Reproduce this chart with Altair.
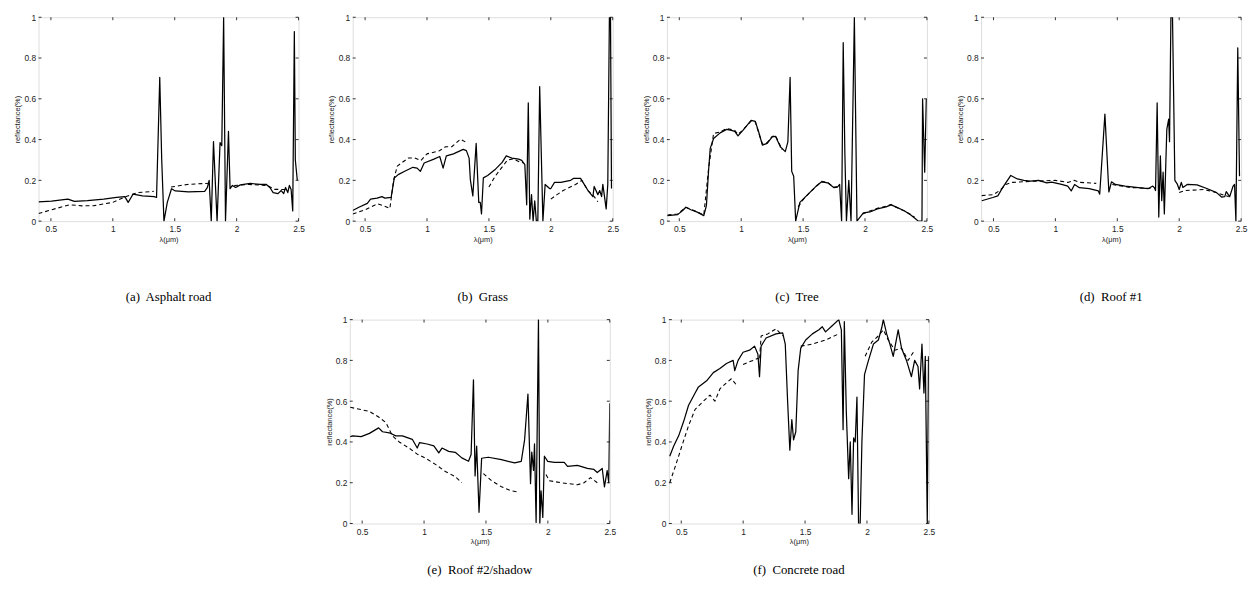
import altair as alt
import pandas as pd

# ---------------- data ----------------
N = None
CAPTIONS = ["(a)\u00a0 Asphalt road", "(b)\u00a0 Grass", "(c)\u00a0 Tree", "(d)\u00a0 Roof #1",
            "(e)\u00a0 Roof #2/shadow", "(f)\u00a0 Concrete road"]

A_SX = [0.40, 0.505, 0.637, 0.69, 0.795, 0.926, 1.03, 1.097, 1.124, 1.163, 1.24, 1.334, 1.353, 1.379, 1.395, 1.413,
        1.44, 1.474, 1.505, 1.61, 1.742, 1.763, 1.778, 1.795, 1.813, 1.842, 1.866, 1.88, 1.895, 1.91, 1.934, 1.947,
        1.966, 1.992, 2.03, 2.11, 2.19, 2.24, 2.268, 2.295, 2.334, 2.36, 2.38, 2.395, 2.413, 2.426, 2.44, 2.453,
        2.466, 2.474, 2.49]
A_SY = [0.095, 0.098, 0.108, 0.097, 0.101, 0.108, 0.116, 0.12, 0.092, 0.132, 0.124, 0.12, 0.116, 0.705, 0.3, 0.0,
        0.092, 0.159, 0.148, 0.143, 0.146, 0.164, 0.2, 0.0, 0.39, 0.0, 0.385, 0.37, 1.0, 0.0, 0.44, 0.159,
        0.175, 0.165, 0.178, 0.185, 0.18, 0.18, 0.165, 0.14, 0.135, 0.15, 0.135, 0.165, 0.14, 0.175, 0.155, 0.05,
        0.93, 0.3, 0.2]
A_DX = [0.40, 0.5, 0.65, 0.75, 0.85, 1.0, 1.1, 1.2, 1.33, N, 1.47, 1.6, 1.78, N, 1.98, 2.1, 2.25, 2.3, 2.42]
A_DY = [0.037, 0.055, 0.08, 0.075, 0.076, 0.092, 0.119, 0.14, 0.146, N, 0.167, 0.18, 0.186, N, 0.175, 0.18, 0.175, 0.156, 0.155]

B_SX = [0.40, 0.45, 0.518, 0.544, 0.597, 0.636, 0.66, 0.71, 0.736, 0.767, 0.82, 0.886, 0.92, 0.946, 0.977, 1.056,
        1.103, 1.13, 1.156, 1.214, 1.292, 1.318, 1.34, 1.35, 1.37, 1.397, 1.418, 1.43, 1.44, 1.455, 1.49, 1.555,
        1.607, 1.64, 1.686, 1.74, 1.765, 1.79, 1.805, 1.818, 1.83, 1.844, 1.857, 1.87, 1.883, 1.895, 1.91, 1.936,
        1.954, 1.99, 2.0, 2.03, 2.08, 2.16, 2.185, 2.24, 2.26, 2.3, 2.34, 2.35, 2.38, 2.395, 2.41, 2.42, 2.447,
        2.46, 2.473, 2.482, 2.49]
B_SY = [0.052, 0.068, 0.087, 0.108, 0.113, 0.12, 0.113, 0.116, 0.212, 0.228, 0.245, 0.264, 0.26, 0.244, 0.285, 0.304,
        0.317, 0.26, 0.32, 0.33, 0.352, 0.346, 0.309, 0.204, 0.124, 0.381, 0.092, 0.092, 0.035, 0.212, 0.224, 0.256,
        0.288, 0.32, 0.309, 0.304, 0.298, 0.277, 0.08, 0.58, 0.01, 0.13, 0.0, 0.1, 0.0, 0.0, 0.66, 0.0,
        0.18, 0.16, 0.16, 0.19, 0.19, 0.2, 0.21, 0.21, 0.19, 0.15, 0.12, 0.17, 0.13, 0.15, 0.12, 0.18, 0.06,
        0.18, 1.0, 1.0, 0.16]
B_DX = [0.40, 0.5, 0.6, 0.65, 0.70, 0.73, 0.76, 0.85, 0.9, 0.95, 1.0, 1.1, 1.15, 1.2, 1.27, 1.32, N,
        1.5, 1.55, 1.6, 1.65, 1.7, 1.75, 1.78, N, 2.0, 2.05, 2.1, 2.2, 2.25, 2.3, 2.35, 2.38]
B_DY = [0.035, 0.055, 0.085, 0.075, 0.062, 0.2, 0.27, 0.31, 0.31, 0.297, 0.33, 0.345, 0.365, 0.365, 0.402, 0.385, N,
        0.167, 0.22, 0.26, 0.3, 0.305, 0.29, 0.285, N, 0.108, 0.13, 0.15, 0.18, 0.2, 0.15, 0.12, 0.095]

C_SX = [0.405, 0.487, 0.527, 0.553, 0.593, 0.645, 0.698, 0.719, 0.737, 0.75, 0.777, 0.83, 0.882, 0.921, 0.948,
        0.974, 1.014, 1.08, 1.114, 1.145, 1.171, 1.21, 1.25, 1.277, 1.316, 1.356, 1.377, 1.395, 1.408, 1.424,
        1.44, 1.474, 1.5, 1.553, 1.606, 1.65, 1.698, 1.75, 1.777, 1.795, 1.811, 1.824, 1.837, 1.85, 1.869, 1.887,
        1.914, 1.935, 1.96, 1.987, 2.04, 2.1, 2.17, 2.21, 2.25, 2.32, 2.37, 2.41, 2.43, 2.46, 2.465, 2.482, 2.495]
C_SY = [0.027, 0.032, 0.052, 0.068, 0.056, 0.044, 0.027, 0.076, 0.252, 0.357, 0.405, 0.433, 0.45, 0.445, 0.44,
        0.418, 0.445, 0.494, 0.489, 0.43, 0.373, 0.381, 0.413, 0.416, 0.365, 0.341, 0.389, 0.705, 0.244, 0.22,
        0.0, 0.092, 0.108, 0.14, 0.172, 0.193, 0.188, 0.164, 0.167, 0.18, 0.0, 0.875, 0.34, 0.0, 0.2, 0.0,
        1.0, 0.0, 0.02, 0.04, 0.045, 0.06, 0.07, 0.08, 0.07, 0.05, 0.03, 0.01, 0.0, 0.0, 0.6, 0.24, 0.6]
C_DX = [0.405, 0.487, 0.553, 0.645, 0.698, 0.737, 0.777, 0.83, 0.882, 0.948, 0.974, 1.014, 1.08, 1.114, 1.145,
        1.171, 1.21, 1.25, 1.277, 1.316, 1.33, N, 1.46, 1.5, 1.553, 1.606, 1.65, 1.698, 1.75, 1.78, N,
        1.98, 2.04, 2.1, 2.17, 2.21, 2.25, 2.32, 2.37, 2.4]
C_DY = [0.03, 0.035, 0.068, 0.046, 0.03, 0.26, 0.43, 0.437, 0.455, 0.445, 0.425, 0.448, 0.49, 0.487, 0.425,
        0.38, 0.385, 0.415, 0.42, 0.37, 0.35, N, 0.07, 0.105, 0.14, 0.17, 0.195, 0.19, 0.166, 0.17, N,
        0.035, 0.05, 0.063, 0.073, 0.082, 0.068, 0.05, 0.032, 0.02]

D_SX = [0.405, 0.495, 0.535, 0.574, 0.64, 0.693, 0.745, 0.798, 0.864, 0.93, 0.97, 1.05, 1.1, 1.128, 1.155, 1.194,
        1.273, 1.347, 1.358, 1.40, 1.432, 1.453, 1.484, 1.563, 1.67, 1.748, 1.787, 1.8, 1.809, 1.822, 1.835,
        1.848, 1.859, 1.87, 1.88, 1.9, 1.915, 1.922, 1.933, 1.946, 1.965, 1.986, 2.0, 2.017, 2.03, 2.065, 2.144,
        2.223, 2.302, 2.342, 2.368, 2.38, 2.408, 2.434, 2.447, 2.458, 2.473, 2.487]
D_SY = [0.1, 0.116, 0.124, 0.164, 0.224, 0.207, 0.2, 0.196, 0.2, 0.188, 0.191, 0.18, 0.172, 0.148, 0.18, 0.164,
        0.159, 0.148, 0.132, 0.525, 0.143, 0.193, 0.18, 0.172, 0.164, 0.159, 0.172, 0.164, 0.15, 0.58, 0.02,
        0.32, 0.1, 0.24, 0.035, 0.45, 0.5, 0.39, 1.0, 1.0, 0.2, 0.18, 0.155, 0.19, 0.165, 0.18, 0.178,
        0.16, 0.14, 0.118, 0.12, 0.145, 0.12, 0.17, 0.18, 0.0, 0.85, 0.22]
D_DX = [0.405, 0.5, 0.55, 0.6, 0.65, 0.8, 1.0, 1.1, 1.15, 1.2, 1.33, N, 1.46, 1.6, 1.78, N, 2.0, 2.05, 2.2, 2.3, 2.4]
D_DY = [0.125, 0.13, 0.15, 0.18, 0.19, 0.195, 0.2, 0.19, 0.2, 0.19, 0.185, N, 0.18, 0.165, 0.16, N, 0.14, 0.15, 0.155, 0.14, 0.12]

E_SX = [0.404, 0.425, 0.492, 0.559, 0.633, 0.665, 0.719, 0.772, 0.825, 0.905, 0.945, 0.964, 1.025, 1.079, 1.119,
        1.145, 1.199, 1.252, 1.305, 1.359, 1.38, 1.399, 1.412, 1.425, 1.444, 1.465, 1.519, 1.625, 1.732, 1.785,
        1.812, 1.839, 1.86, 1.87, 1.884, 1.892, 1.905, 1.924, 1.935, 1.945, 1.959, 1.972, 1.999, 2.052, 2.132,
        2.159, 2.239, 2.319, 2.372, 2.399, 2.439, 2.457, 2.479, 2.492, 2.5]
E_SY = [0.426, 0.43, 0.426, 0.442, 0.469, 0.45, 0.445, 0.43, 0.43, 0.413, 0.37, 0.397, 0.39, 0.381, 0.346,
        0.37, 0.354, 0.349, 0.322, 0.305, 0.338, 0.705, 0.233, 0.38, 0.055, 0.32, 0.325, 0.313, 0.297, 0.305,
        0.41, 0.635, 0.195, 0.35, 0.26, 0.39, 0.005, 1.0, 0.0, 0.16, 0.03, 0.33, 0.305, 0.3, 0.3,
        0.28, 0.285, 0.27, 0.265, 0.25, 0.27, 0.18, 0.26, 0.2, 0.59]
E_DX = [0.404, 0.559, 0.639, 0.692, 0.745, 0.799, 0.879, 0.945, 1.012, 1.092, 1.172, 1.252, 1.305, N,
        1.479, 1.545, 1.625, 1.705, 1.759, N, 1.985, 2.012, 2.105, 2.239, 2.292, 2.345, 2.399]
E_DY = [0.57, 0.55, 0.52, 0.495, 0.43, 0.4, 0.37, 0.34, 0.32, 0.29, 0.255, 0.23, 0.2, N,
        0.245, 0.21, 0.18, 0.16, 0.155, N, 0.24, 0.21, 0.2, 0.19, 0.2, 0.225, 0.2]

F_SX = [0.407, 0.439, 0.479, 0.519, 0.559, 0.612, 0.639, 0.705, 0.759, 0.812, 0.865, 0.919, 0.932, 0.959, 0.999,
        1.052, 1.092, 1.119, 1.132, 1.145, 1.185, 1.265, 1.319, 1.34, 1.359, 1.377, 1.393, 1.407, 1.425, 1.444,
        1.465, 1.505, 1.559, 1.612, 1.639, 1.665, 1.719, 1.772, 1.793, 1.807, 1.817, 1.833, 1.852, 1.865, 1.879,
        1.892, 1.905, 1.919, 1.932, 1.945, 1.959, 1.98, 2.012, 2.052, 2.092, 2.119, 2.132, 2.159, 2.185, 2.212,
        2.252, 2.279, 2.319, 2.359, 2.385, 2.412, 2.425, 2.444, 2.46, 2.471, 2.487, 2.497]
F_SY = [0.33, 0.38, 0.43, 0.5, 0.58, 0.64, 0.67, 0.7, 0.74, 0.76, 0.785, 0.8, 0.75, 0.8, 0.84,
        0.85, 0.87, 0.83, 0.72, 0.87, 0.91, 0.93, 0.935, 0.88, 0.6, 0.36, 0.51, 0.41, 0.45, 0.75,
        0.86, 0.9, 0.93, 0.95, 0.965, 0.94, 0.97, 1.0, 0.95, 0.46, 0.99, 0.55, 0.22, 0.4, 0.045,
        0.42, 0.4, 0.62, 0.0, 0.0, 0.4, 0.73, 0.8, 0.88, 0.9, 0.96, 1.0, 0.93, 0.88, 0.82,
        0.95, 0.86, 0.8, 0.72, 0.8, 0.77, 0.66, 0.88, 0.64, 0.82, 0.0, 0.82]
F_DX = [0.407, 0.452, 0.505, 0.559, 0.612, 0.679, 0.732, 0.772, 0.812, 0.865, 0.905, 0.945, N,
        0.999, 1.079, 1.119, 1.132, 1.145, 1.199, 1.265, 1.319, N, 1.465, 1.559, 1.665, 1.772, N,
        1.985, 2.039, 2.092, 2.132, 2.172, 2.225, 2.279, 2.332, 2.385]
F_DY = [0.2, 0.28, 0.38, 0.48, 0.56, 0.6, 0.63, 0.6, 0.66, 0.69, 0.71, 0.68, N,
        0.78, 0.8, 0.81, 0.8, 0.92, 0.93, 0.955, 0.92, N, 0.87, 0.88, 0.9, 0.93, N,
        0.82, 0.89, 0.92, 0.95, 0.9, 0.85, 0.86, 0.8, 0.85]

PANELS = [(A_SX, A_SY, A_DX, A_DY), (B_SX, B_SY, B_DX, B_DY), (C_SX, C_SY, C_DX, C_DY),
          (D_SX, D_SY, D_DX, D_DY), (E_SX, E_SY, E_DX, E_DY), (F_SX, F_SY, F_DX, F_DY)]

X_TICKS = [0.5, 1.0, 1.5, 2.0, 2.5]
Y_TICKS = [0.0, 0.2, 0.4, 0.6, 0.8, 1.0]

W, H = 264, 207
TICK = 3


def segments(xs, ys):
    rows, seg = [], 0
    for x, y in zip(xs, ys):
        if x is None:
            seg += 1
            continue
        rows.append({"lam": x, "ref": y, "seg": seg})
    return pd.DataFrame(rows)


xscale = alt.Scale(domain=[0.4, 2.5], nice=False, zero=False)
yscale = alt.Scale(domain=[0, 1], nice=False)

xaxis = alt.Axis(values=X_TICKS, format="~g", title="λ(μm)", grid=False, ticks=False, domain=False,
                 labelFontSize=8.5, titleFontSize=7.5, titleFontWeight="normal", labelPadding=4,
                 titlePadding=2, labelFont="Liberation Sans", titleFont="Liberation Sans",
                 labelColor="#222", titleColor="#222", labelFlush=False)
yaxis = alt.Axis(values=Y_TICKS, format="~g", title="reflectance(%)", grid=False, ticks=False, domain=False,
                 labelFontSize=8.5, titleFontSize=7.5, titleFontWeight="normal", labelPadding=3,
                 titlePadding=3, minExtent=14, maxExtent=14, labelFont="Liberation Sans",
                 titleFont="Liberation Sans", labelColor="#222", titleColor="#222", labelFlush=False)


def panel(i, cap_offset):
    sx, sy, dx, dy = PANELS[i]
    solid = segments(sx, sy)
    dashed = segments(dx, dy)
    base_s = alt.Chart(solid).mark_line(color="black", strokeWidth=1.25, strokeJoin="round",
                                        clip=True).encode(
        x=alt.X("lam:Q", scale=xscale, axis=xaxis),
        y=alt.Y("ref:Q", scale=yscale, axis=yaxis),
        detail="seg:N",
        order="lam:Q",
    )
    base_d = alt.Chart(dashed).mark_line(color="black", strokeWidth=1.1, strokeDash=[4, 3],
                                         strokeJoin="round", clip=True).encode(
        x=alt.X("lam:Q", scale=xscale),
        y=alt.Y("ref:Q", scale=yscale),
        detail="seg:N",
        order="lam:Q",
    )
    tx = pd.DataFrame({"t": X_TICKS})
    ty = pd.DataFrame({"t": Y_TICKS})
    t_bottom = alt.Chart(tx).mark_rule(color="black", strokeWidth=0.8).encode(
        x=alt.X("t:Q", scale=xscale), y=alt.value(H), y2=alt.value(H - TICK))
    t_top = alt.Chart(tx).mark_rule(color="black", strokeWidth=0.8).encode(
        x=alt.X("t:Q", scale=xscale), y=alt.value(0), y2=alt.value(TICK))
    t_left = alt.Chart(ty).mark_rule(color="black", strokeWidth=0.8).encode(
        y=alt.Y("t:Q", scale=yscale), x=alt.value(0), x2=alt.value(TICK))
    t_right = alt.Chart(ty).mark_rule(color="black", strokeWidth=0.8).encode(
        y=alt.Y("t:Q", scale=yscale), x=alt.value(W), x2=alt.value(W - TICK))
    return alt.layer(base_d, base_s, t_bottom, t_top, t_left, t_right).properties(
        width=W, height=H,
        title=alt.TitleParams(text=CAPTIONS[i], orient="bottom", font="Liberation Serif", fontSize=13,
                              fontWeight="normal", color="black", offset=cap_offset, anchor="middle"),
    )


blank = alt.Chart(pd.DataFrame({"v": [0]})).mark_point(opacity=0).encode(
    x=alt.X("v:Q", axis=None), y=alt.Y("v:Q", axis=None)
).properties(width=263, height=H, view=alt.ViewBackground(stroke=None))

top_row = alt.hconcat(panel(0, 49), panel(1, 49), panel(2, 49), panel(3, 49), spacing=22)
bottom_row = alt.hconcat(blank, panel(4, 19), panel(5, 19), spacing=27)

chart = alt.vconcat(top_row, bottom_row, spacing=10).properties(
    padding={"left": 5, "top": 0, "right": 0, "bottom": 0}
).configure_view(stroke="black", strokeWidth=1.2).configure(background="white")

chart.save("out.html", embed_options={"renderer": "svg", "actions": False})
